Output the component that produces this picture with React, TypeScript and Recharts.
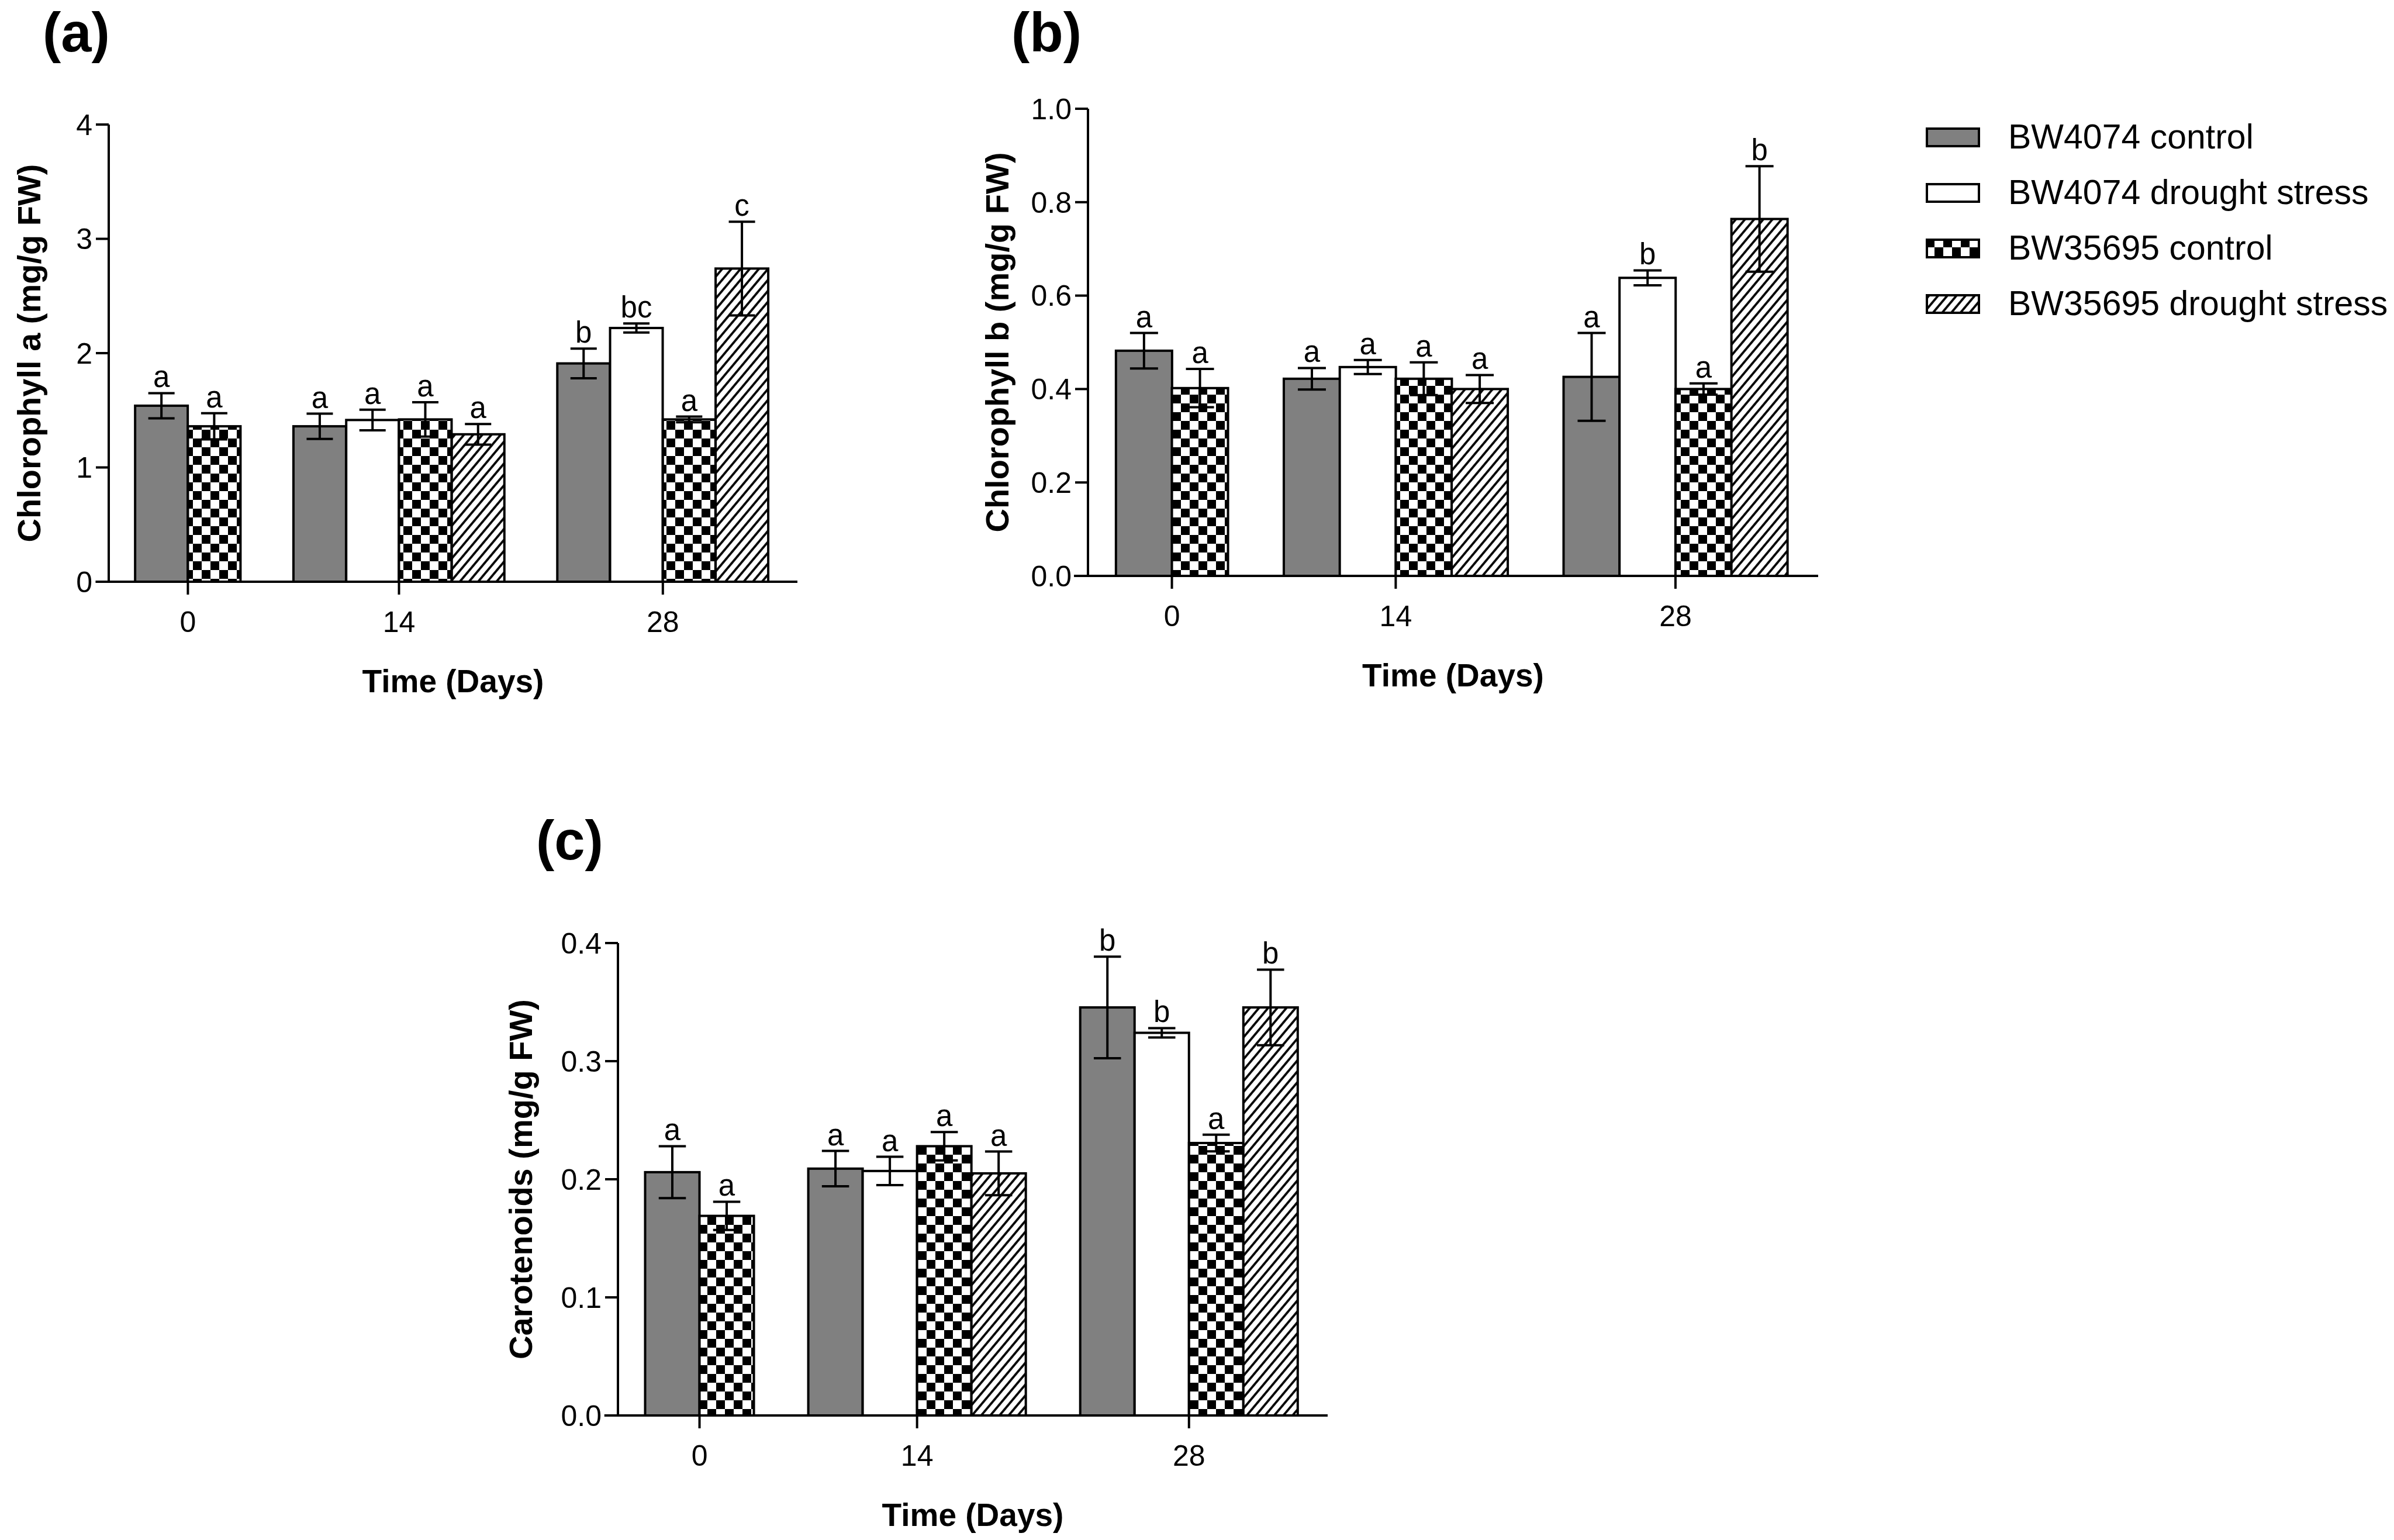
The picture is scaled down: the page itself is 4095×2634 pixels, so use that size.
import React from 'react';
import { BarChart, Bar, XAxis, YAxis, Legend, ReferenceLine, Label } from 'recharts';

const FONT = '"Liberation Sans", Arial, Helvetica, sans-serif';

const DAYS = ['0', '14', '28'];
const SERIES_KEYS = ['ctrl4074', 'drought4074', 'ctrl35695', 'drought35695'];
const SERIES_NAMES = ['BW4074 control', 'BW4074 drought stress', 'BW35695 control', 'BW35695 drought stress'];

// values are [series][day]
const CHL_A_MEAN = [[1.54, 1.36, 1.91], [null, 1.415, 2.22], [1.36, 1.42, 1.42], [null, 1.29, 2.74]];
const CHL_A_SD = [[0.11, 0.11, 0.13], [null, 0.09, 0.04], [0.115, 0.15, 0.025], [null, 0.09, 0.41]];
const CHL_A_SIG = [['a', 'a', 'b'], [null, 'a', 'bc'], ['a', 'a', 'a'], [null, 'a', 'c']];
const CHL_A_TICKS = [0, 1, 2, 3, 4];

const CHL_B_MEAN = [[0.482, 0.422, 0.426], [null, 0.447, 0.638], [0.402, 0.422, 0.4], [null, 0.4, 0.764]];
const CHL_B_SD = [[0.038, 0.023, 0.094], [null, 0.015, 0.016], [0.041, 0.035, 0.012], [null, 0.03, 0.113]];
const CHL_B_SIG = [['a', 'a', 'a'], [null, 'a', 'b'], ['a', 'a', 'a'], [null, 'a', 'b']];
const CHL_B_TICKS = [0, 0.2, 0.4, 0.6, 0.8, 1.0];

const CAR_MEAN = [[0.206, 0.209, 0.3455], [null, 0.207, 0.324], [0.169, 0.228, 0.2307], [null, 0.205, 0.3455]];
const CAR_SD = [[0.022, 0.015, 0.043], [null, 0.012, 0.004], [0.012, 0.012, 0.007], [null, 0.0185, 0.032]];
const CAR_SIG = [['a', 'a', 'b'], [null, 'a', 'b'], ['a', 'a', 'a'], [null, 'a', 'b']];
const CAR_TICKS = [0, 0.1, 0.2, 0.3, 0.4];

function buildSlots(mean: any[][], sd: any[][], sig: any[][]) {
  const rows: any[] = [];
  const groupTicks: number[] = [];
  let cursor = 0.5;
  DAYS.forEach((day, d) => {
    const centers: number[] = [];
    SERIES_KEYS.forEach((key, s) => {
      const v = mean[s][d];
      if (v == null) return;
      const x = cursor + 0.5;
      rows.push({ x, day, [key]: v, [key + 'Sd']: sd[s][d], [key + 'Sig']: sig[s][d] });
      centers.push(x);
      cursor += 1;
    });
    groupTicks.push((centers[0] + centers[centers.length - 1]) / 2);
    cursor += 1;
  });
  const xMax = cursor - 1 + 0.55;
  return { rows, groupTicks, xMax };
}

function patternDefs(id: string) {
  return (
    <defs>
      <pattern id={`checker-${id}`} patternUnits="userSpaceOnUse" width={30} height={30}>
        <rect x={0} y={0} width={30} height={30} fill="#fff" />
        <rect x={0} y={0} width={15} height={15} fill="#000" />
        <rect x={15} y={15} width={15} height={15} fill="#000" />
      </pattern>
      <pattern id={`hatch-${id}`} patternUnits="userSpaceOnUse" width={12} height={12} patternTransform="rotate(40)">
        <rect x={0} y={0} width={12} height={12} fill="#fff" />
        <line x1={6} y1={-2} x2={6} y2={14} stroke="#000" strokeWidth={3.8} />
      </pattern>
    </defs>
  );
}

function fillsFor(id: string) {
  return ['#808080', '#ffffff', `url(#checker-${id})`, `url(#hatch-${id})`];
}

const makeShape = (key: string, fill: string) => (props: any) => {
  const { x, y, width, height, payload } = props;
  const v = payload ? payload[key] : null;
  if (v == null || !(height > 0)) return <g />;
  const sd = payload[key + 'Sd'] || 0;
  const sig = payload[key + 'Sig'];
  const ppu = height / v;
  const cx = x + width / 2;
  const yHi = y - sd * ppu;
  const yLo = y + sd * ppu;
  const cap = width * 0.25;
  return (
    <g>
      <rect x={x} y={y} width={width} height={height} fill={fill} stroke="#000" strokeWidth={4} />
      <line x1={cx} x2={cx} y1={yHi} y2={yLo} stroke="#000" strokeWidth={4} />
      <line x1={cx - cap} x2={cx + cap} y1={yHi} y2={yHi} stroke="#000" strokeWidth={4} />
      <line x1={cx - cap} x2={cx + cap} y1={yLo} y2={yLo} stroke="#000" strokeWidth={4} />
      {sig ? (
        <text x={cx} y={yHi - 10} textAnchor="middle" fontSize={51} fontFamily={FONT} fill="#000">
          {sig}
        </text>
      ) : null}
    </g>
  );
};

const LegendContent = (props: any) => {
  const payload = (props.payload || []).slice().sort(
    (a: any, b: any) => SERIES_KEYS.indexOf(a.dataKey) - SERIES_KEYS.indexOf(b.dataKey)
  );
  const fills = fillsFor('lg');
  return (
    <div style={{ fontFamily: FONT }}>
      {payload.map((p: any) => {
        const idx = SERIES_KEYS.indexOf(p.dataKey);
        return (
          <div key={p.dataKey} style={{ display: 'flex', alignItems: 'center', height: 95 }}>
            <svg width={93} height={34} style={{ display: 'block' }}>
              {patternDefs('lg')}
              <rect x={2} y={2} width={89} height={30} fill={fills[idx]} stroke="#000" strokeWidth={4} />
            </svg>
            <span style={{ marginLeft: 48, fontSize: 59, color: '#000', lineHeight: 1, whiteSpace: 'nowrap' }}>
              {p.value}
            </span>
          </div>
        );
      })}
    </div>
  );
};

function Panel(p: any) {
  const { rows, groupTicks, xMax } = buildSlots(p.mean, p.sd, p.sig);
  const yMax = p.ticks[p.ticks.length - 1];
  const fills = fillsFor(p.id);
  const fmt = p.decimals ? (v: number) => v.toFixed(1) : (v: number) => String(v);
  return (
    <BarChart width={p.width} height={p.height} data={rows} margin={p.margin} barCategoryGap={0} barGap={0}>
      {patternDefs(p.id)}
      <XAxis
        dataKey="x"
        type="number"
        domain={[0, xMax]}
        ticks={groupTicks}
        interval={0}
        tickFormatter={(v: number) => DAYS[groupTicks.indexOf(v)] ?? ''}
        axisLine={false}
        tickSize={22}
        tickMargin={28}
        tickLine={{ stroke: '#000', strokeWidth: 4 }}
        tick={{ fontSize: 50, fill: '#000', fontFamily: FONT }}
        height={200}
      >
        <Label
          value="Time (Days)"
          position="insideBottom"
          offset={11}
          style={{ fontSize: 55, fontWeight: 'bold', fill: '#000', fontFamily: FONT }}
        />
      </XAxis>
      <YAxis
        type="number"
        domain={[0, yMax]}
        ticks={p.ticks}
        interval={0}
        tickFormatter={fmt}
        width={p.yAxisWidth}
        axisLine={{ stroke: '#000', strokeWidth: 4 }}
        tickLine={{ stroke: '#000', strokeWidth: 4 }}
        tickSize={22}
        tickMargin={6}
        tick={{ fontSize: 50, fill: '#000', fontFamily: FONT }}
      >
        <Label
          value={p.yLabel}
          angle={-90}
          position="center"
          dx={p.yLabelDx}
          style={{ fontSize: 56, fontWeight: 'bold', fill: '#000', fontFamily: FONT, textAnchor: 'middle' }}
        />
      </YAxis>
      <ReferenceLine
        segment={[{ x: -0.25, y: 0 }, { x: xMax, y: 0 }]}
        stroke="#000"
        strokeWidth={4}
        ifOverflow="visible"
      />
      {SERIES_KEYS.map((key, i) => (
        <Bar
          key={key}
          dataKey={key}
          name={SERIES_NAMES[i]}
          stackId="s"
          fill={fills[i]}
          stroke="#000"
          legendType="rect"
          isAnimationActive={false}
          shape={makeShape(key, fills[i])}
        />
      ))}
      <text x={p.titleX} y={p.titleY} fontSize={94} fontWeight="bold" fontFamily={FONT} fill="#000">
        {p.title}
      </text>
      {p.withLegend ? (
        <Legend
          layout="vertical"
          align="center"
          verticalAlign="middle"
          content={LegendContent}
          wrapperStyle={{ left: p.legendLeft, top: p.legendTop, width: 820 }}
        />
      ) : null}
    </BarChart>
  );
}

export default function App() {
  return (
    <div style={{ position: 'absolute', left: 0, top: 0, width: 4095, height: 2634, background: '#fff', overflow: 'hidden' }}>
      <div style={{ position: 'absolute', left: 0, top: 0 }}>
        <Panel
          id="a"
          mean={CHL_A_MEAN}
          sd={CHL_A_SD}
          sig={CHL_A_SIG}
          ticks={CHL_A_TICKS}
          decimals={false}
          yLabel="Chlorophyll a (mg/g FW)"
          width={1400}
          height={1250}
          margin={{ top: 213, right: 36, bottom: 55, left: 0 }}
          yAxisWidth={186}
          yLabelDx={-44}
          title="(a)"
          titleX={73}
          titleY={88}
        />
      </div>
      <div style={{ position: 'absolute', left: 1600, top: 0 }}>
        <Panel
          id="b"
          mean={CHL_B_MEAN}
          sd={CHL_B_SD}
          sig={CHL_B_SIG}
          ticks={CHL_B_TICKS}
          decimals={true}
          yLabel="Chlorophyll b (mg/g FW)"
          width={2495}
          height={1250}
          margin={{ top: 186, right: 985, bottom: 65, left: 0 }}
          yAxisWidth={261}
          yLabelDx={-25}
          title="(b)"
          titleX={130}
          titleY={88}
          withLegend={true}
          legendLeft={1694}
          legendTop={187}
        />
      </div>
      <div style={{ position: 'absolute', left: 700, top: 1300 }}>
        <Panel
          id="c"
          mean={CAR_MEAN}
          sd={CAR_SD}
          sig={CAR_SIG}
          ticks={CAR_TICKS}
          decimals={true}
          yLabel="Carotenoids (mg/g FW)"
          width={1650}
          height={1334}
          margin={{ top: 313, right: 79, bottom: 13, left: 0 }}
          yAxisWidth={357}
          yLabelDx={12}
          title="(c)"
          titleX={217}
          titleY={170}
        />
      </div>
    </div>
  );
}
